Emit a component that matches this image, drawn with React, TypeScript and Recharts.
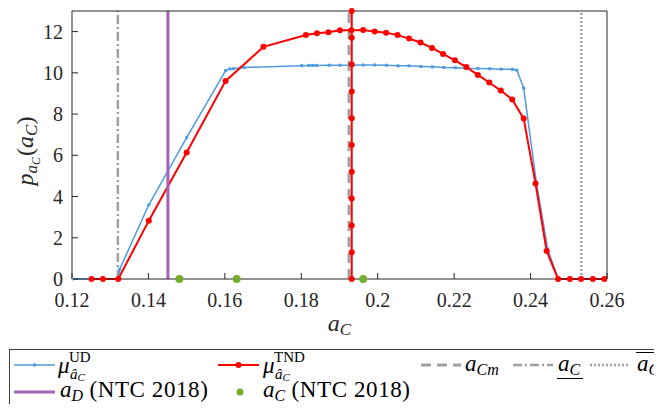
import React from "react"
import { ComposedChart, Line, XAxis, YAxis, ReferenceLine } from "recharts"

// mu^UD curve
const udX = [0.12, 0.1321, 0.1325, 0.1401, 0.15, 0.1602, 0.1613, 0.1622, 0.165, 0.1801, 0.182, 0.183, 0.184, 0.1873, 0.1901, 0.1931, 0.1962, 0.1992, 0.2023, 0.2053, 0.2082, 0.2113, 0.2143, 0.2173, 0.2203, 0.2233, 0.2262, 0.2293, 0.2323, 0.2353, 0.2364, 0.2382, 0.2415, 0.2445, 0.2472, 0.26]
const udY = [0, 0, 0.48, 3.6, 6.86, 10.11, 10.19, 10.2, 10.26, 10.35, 10.36, 10.36, 10.36, 10.37, 10.37, 10.37, 10.38, 10.38, 10.37, 10.34, 10.34, 10.31, 10.29, 10.26, 10.25, 10.22, 10.21, 10.2, 10.18, 10.17, 10.13, 9.26, 4.7, 1.45, 0, 0]

// mu^TND curve
const tndX = [0.1251, 0.1281, 0.1321, 0.1401, 0.15, 0.1602, 0.1701, 0.1812, 0.1841, 0.1871, 0.1901, 0.1931, 0.1962, 0.1992, 0.2022, 0.2052, 0.2082, 0.2112, 0.2142, 0.2171, 0.2202, 0.2232, 0.2262, 0.2292, 0.2322, 0.2352, 0.2382, 0.2413, 0.2442, 0.2472, 0.2503, 0.2532, 0.2563, 0.2593]
const tndY = [0, 0, 0, 2.83, 6.14, 9.61, 11.26, 11.84, 11.92, 11.97, 12.07, 12.07, 12.08, 12.0, 11.95, 11.83, 11.66, 11.47, 11.21, 10.92, 10.61, 10.28, 9.9, 9.53, 9.14, 8.71, 7.78, 4.63, 1.36, 0, 0, 0, 0, 0]

// vertical marker of the TND mean
const tndMeanX = 0.1932
const tndMeanY = [0, 1.3, 2.6, 3.9, 5.2, 6.5, 7.8, 9.1, 10.4, 11.7, 13]

// NTC 2018 values
const ntcCX = [0.1481, 0.1631, 0.1962]
const ntcCY = [0, 0, 0]
const ntcD = 0.1451

const aCm = 0.1925
const aCLower = 0.132
const aCUpper = 0.2533

const xTicks = [0.12, 0.14, 0.16, 0.18, 0.2, 0.22, 0.24, 0.26]
const yTicks = [0, 2, 4, 6, 8, 10, 12]

const udData = udX.map((x, i) => ({ x, y: udY[i] }))
const tndData = tndX.map((x, i) => ({ x, y: tndY[i] }))
const tndMeanData = tndMeanY.map((y) => ({ x: tndMeanX, y }))
const ntcData = ntcCX.map((x, i) => ({ x, y: ntcCY[i] }))

const BLUE = "#4d9be0"
const RED = "#ff0000"
const GRAY = "#a0a0a0"
const PURPLE = "#a462b8"
const GREEN = "#77ac30"
const AXIS = "#262626"
const FONT = "Liberation Serif"

const tickStyle = { fontSize: 20, fill: AXIS, fontFamily: FONT }

const SquareDot = (props: any) => {
  const { cx, cy } = props
  if (cx == null || cy == null) return null
  return <rect x={cx - 1.5} y={cy - 1.5} width={3} height={3} fill={BLUE} />
}

const XLabel = (props: any) => {
  const vb = props.viewBox || {}
  const cx = vb.x + vb.width / 2
  return (
    <text x={cx} y={vb.y + 52} textAnchor="middle" fontFamily={FONT} fontSize={24} fill={AXIS}>
      <tspan fontStyle="italic">a</tspan>
      <tspan fontStyle="italic" fontSize={17} dy={4}>C</tspan>
    </text>
  )
}

const YLabel = (props: any) => {
  const vb = props.viewBox || {}
  const cx = 25
  const cy = vb.y + vb.height / 2 + 6
  return (
    <text x={cx} y={cy} transform={`rotate(-90 ${cx} ${cy})`} textAnchor="middle" fontFamily={FONT} fontSize={24} fill={AXIS}>
      <tspan fontStyle="italic">p</tspan>
      <tspan fontStyle="italic" fontSize={17} dy={4}>a</tspan>
      <tspan fontStyle="italic" fontSize={12} dy={3}>C</tspan>
      <tspan dy={-7} dx={1}>(</tspan>
      <tspan fontStyle="italic">a</tspan>
      <tspan fontStyle="italic" fontSize={17} dy={4}>C</tspan>
      <tspan dy={-4}>)</tspan>
    </text>
  )
}

function ChartLegend() {
  const t = { fontFamily: FONT, fill: "#000" }
  return (
    <svg width={700} height={58} style={{ position: "absolute", left: 1, top: 341 }}>
      <rect x={0.5} y={0.5} width={698} height={57} fill="#fff" stroke="#404040" strokeWidth={1} />
      {/* row 1 */}
      <line x1={5} x2={46} y1={16} y2={16} stroke={BLUE} strokeWidth={1.5} />
      <rect x={24} y={14.5} width={3} height={3} fill={BLUE} />
      <text x={49} y={24} fontSize={23} fontStyle="italic" {...t}>μ</text>
      <text x={60} y={13} fontSize={15} {...t}>UD</text>
      <text x={61} y={30} fontSize={15} fontStyle="italic" {...t}>â<tspan fontSize={11} dy={2}>C</tspan></text>

      <line x1={209} x2={250} y1={16} y2={16} stroke={RED} strokeWidth={2} />
      <circle cx={229.5} cy={16} r={3} fill={RED} />
      <text x={254} y={24} fontSize={23} fontStyle="italic" {...t}>μ</text>
      <text x={265} y={13} fontSize={15} {...t}>TND</text>
      <text x={266} y={30} fontSize={15} fontStyle="italic" {...t}>â<tspan fontSize={11} dy={2}>C</tspan></text>

      <line x1={412} x2={452} y1={16} y2={16} stroke={GRAY} strokeWidth={3} strokeDasharray="10 6" />
      <text x={456} y={22} fontSize={23} fontStyle="italic" {...t}>a<tspan fontSize={16} dy={4}>Cm</tspan></text>

      <line x1={504} x2={544} y1={16} y2={16} stroke={GRAY} strokeWidth={2.5} strokeDasharray="9 3 2 3" />
      <text x={549} y={22} fontSize={23} fontStyle="italic" {...t}>a<tspan fontSize={16} dy={4}>C</tspan></text>
      <line x1={548} x2={574} y1={29.5} y2={29.5} stroke="#000" strokeWidth={1} />

      <line x1={581} x2={621} y1={16} y2={16} stroke={GRAY} strokeWidth={2.5} strokeDasharray="2 2" />
      <text x={628} y={22} fontSize={23} fontStyle="italic" {...t}>a<tspan fontSize={16} dy={4}>C</tspan></text>
      <line x1={627} x2={655} y1={3.5} y2={3.5} stroke="#000" strokeWidth={1} />

      {/* row 2 */}
      <line x1={5} x2={46} y1={43} y2={43} stroke={PURPLE} strokeWidth={3} />
      <text x={51} y={48} fontSize={23} {...t}>
        <tspan fontStyle="italic">a</tspan>
        <tspan fontStyle="italic" fontSize={16} dy={4}>D</tspan>
        <tspan dy={-4} letterSpacing={0.6}> (NTC 2018)</tspan>
      </text>
      <circle cx={231} cy={43} r={3.5} fill={GREEN} />
      <text x={254} y={48} fontSize={23} {...t}>
        <tspan fontStyle="italic">a</tspan>
        <tspan fontStyle="italic" fontSize={16} dy={4}>C</tspan>
        <tspan dy={-4} letterSpacing={0.6}> (NTC 2018)</tspan>
      </text>
    </svg>
  )
}

export default function App() {
  return (
    <div style={{ position: "relative", width: 654, height: 404, overflow: "hidden", marginBottom: -8, background: "#fff" }}>
      <ComposedChart width={654} height={336} margin={{ top: 0, right: 0, bottom: 0, left: 0 }}>
        <XAxis
          xAxisId="b"
          type="number"
          dataKey="x"
          domain={[0.12, 0.26]}
          ticks={xTicks}
          allowDataOverflow
          height={65}
          tickSize={-6}
          tickMargin={20}
          stroke={AXIS}
          tick={tickStyle}
          label={<XLabel />}
        />
        <XAxis
          xAxisId="t"
          orientation="top"
          type="number"
          dataKey="x"
          domain={[0.12, 0.26]}
          ticks={xTicks}
          height={3}
          tickSize={-6}
          tick={false}
          stroke={AXIS}
        />
        <YAxis
          yAxisId="l"
          type="number"
          domain={[0, 13]}
          ticks={yTicks}
          width={64}
          tickSize={-6}
          tickMargin={15}
          stroke={AXIS}
          tick={tickStyle}
          label={<YLabel />}
        />
        <YAxis
          yAxisId="r"
          orientation="right"
          type="number"
          domain={[0, 13]}
          ticks={yTicks}
          width={55}
          tickSize={-6}
          tick={false}
          stroke={AXIS}
        />
        <ReferenceLine xAxisId="b" yAxisId="l" x={aCm} stroke={GRAY} strokeWidth={3} strokeDasharray="10 6" />
        <ReferenceLine xAxisId="b" yAxisId="l" x={aCLower} stroke={GRAY} strokeWidth={2.5} strokeDasharray="9 3 2 3" />
        <ReferenceLine xAxisId="b" yAxisId="l" x={aCUpper} stroke={GRAY} strokeWidth={2.5} strokeDasharray="2 2" />
        <Line
          xAxisId="b"
          yAxisId="l"
          data={udData}
          dataKey="y"
          stroke={BLUE}
          strokeWidth={1.5}
          dot={<SquareDot />}
          activeDot={false}
          isAnimationActive={false}
        />
        <Line
          xAxisId="b"
          yAxisId="l"
          data={tndData}
          dataKey="y"
          stroke={RED}
          strokeWidth={2}
          dot={{ r: 3, fill: RED, stroke: RED, strokeWidth: 0 }}
          activeDot={false}
          isAnimationActive={false}
        />
        <Line
          xAxisId="b"
          yAxisId="l"
          data={tndMeanData}
          dataKey="y"
          stroke={RED}
          strokeWidth={2}
          dot={{ r: 3, fill: RED, stroke: RED, strokeWidth: 0 }}
          activeDot={false}
          isAnimationActive={false}
        />
        <ReferenceLine xAxisId="b" yAxisId="l" x={ntcD} stroke={PURPLE} strokeWidth={3} />
        <Line
          xAxisId="b"
          yAxisId="l"
          data={ntcData}
          dataKey="y"
          stroke="none"
          dot={{ r: 4, fill: GREEN, stroke: GREEN, strokeWidth: 0 }}
          activeDot={false}
          isAnimationActive={false}
        />
      </ComposedChart>
      <ChartLegend />
    </div>
  )
}
